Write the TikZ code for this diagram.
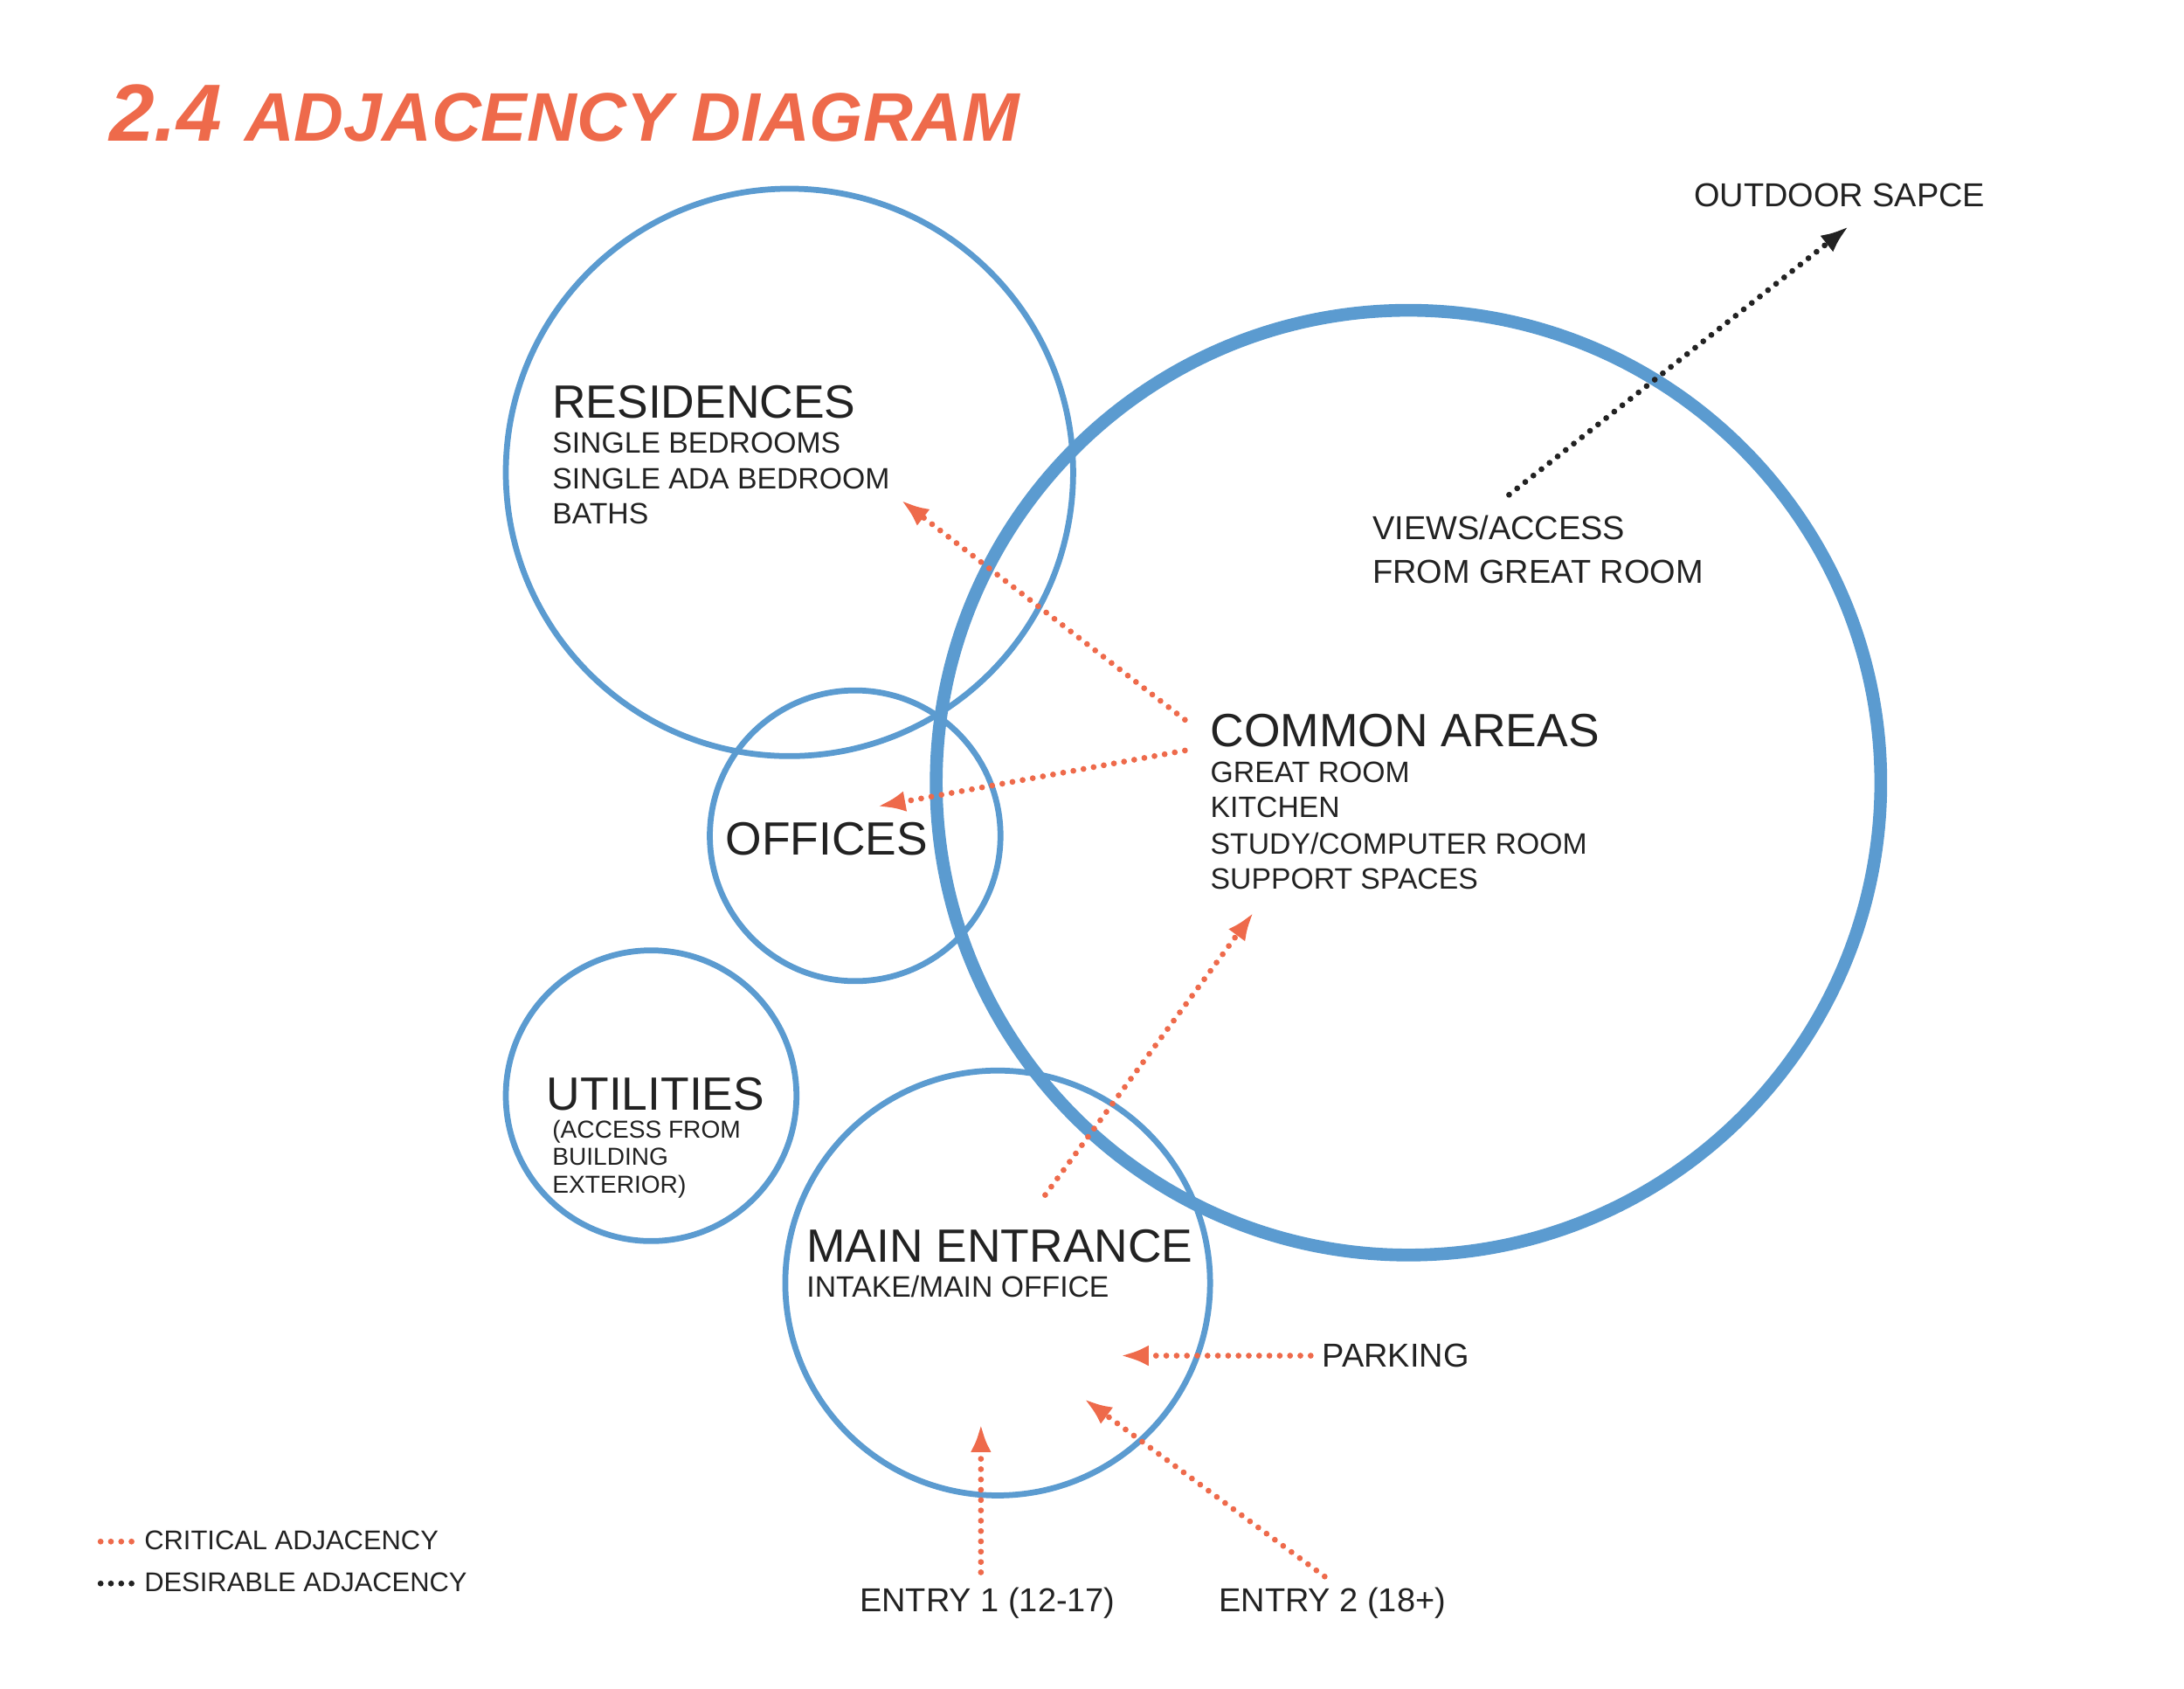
\documentclass[tikz,border=0pt]{standalone}
\usepackage{fontspec}
\setmainfont{Liberation Sans}
\usetikzlibrary{arrows.meta}
\definecolor{zoneblue}{HTML}{5B9BD0}
\definecolor{critorange}{HTML}{EE6A4B}
\definecolor{inkgray}{HTML}{222222}

\begin{document}
\begin{tikzpicture}[
                x=0.02cm, y=-0.02cm,
                zone/.style={draw=zoneblue, line width=2.4pt},
                big/.style={anchor=base west, inner sep=0pt, font=\fontsize{19}{21}\selectfont, text=inkgray},
                small/.style={anchor=base west, inner sep=0pt, font=\fontsize{12}{14}\selectfont, text=inkgray},
                tiny/.style={anchor=base west, inner sep=0pt, font=\fontsize{10}{12}\selectfont, text=inkgray},
                critical/.style={draw=critorange, line width=2.4pt, line cap=round, dash pattern=on 0pt off 4.2pt,
                    -{Latex[length=0.4cm,width=0.3cm,fill=critorange]}},
                desirable/.style={critical, draw=inkgray, -{Latex[length=0.4cm,width=0.3cm,fill=inkgray]}}]

    \useasboundingbox (0,0) rectangle (1563,1208);

    %%% ZONES
    \draw [zone] (565,338) circle (203);
    \draw [zone] (612,598) circle (104);
    \draw [zone, line width=5.2pt] (1008,560) circle (338);
    \draw [zone] (466,784) circle (104);
    \draw [zone] (714,918) circle (152);

    %%% TITLE
    \node [anchor=base west, inner sep=0pt, text=critorange] (title) at (78,101)
        {\fontsize{33}{36}\selectfont\bfseries\itshape 2.4 \fontsize{28}{32}\selectfont ADJACENCY DIAGRAM};

    %%% LABELS
    \node [big] (residences) at (395,299) {RESIDENCES};
    \node [small] (res1) at (395,324) {SINGLE BEDROOMS};
    \node [small] (res2) at (395,350) {SINGLE ADA BEDROOM};
    \node [small] (res3) at (395,375) {BATHS};
    \node [big] (offices) at (519,612) {OFFICES};
    \node [big] (common) at (866,534) {COMMON AREAS};
    \node [small] (com1) at (866,560) {GREAT ROOM};
    \node [small] (com2) at (866,585) {KITCHEN};
    \node [small] (com3) at (866,611) {STUDY/COMPUTER ROOM};
    \node [small] (com4) at (866,636) {SUPPORT SPACES};
    \node [small, font=\fontsize{13.5}{15}\selectfont] (views1) at (982,386) {VIEWS/ACCESS};
    \node [small, font=\fontsize{13.5}{15}\selectfont] (views2) at (982,417) {FROM GREAT ROOM};
    \node [big] (utilities) at (391,794) {UTILITIES};
    \node [tiny] (util1) at (395,814) {(ACCESS FROM};
    \node [tiny] (util2) at (395,834) {BUILDING};
    \node [tiny] (util3) at (395,854) {EXTERIOR)};
    \node [big] (mainentrance) at (577,903) {MAIN ENTRANCE};
    \node [small] (intake) at (577,928) {INTAKE/MAIN OFFICE};
    \node [small, font=\fontsize{13.5}{15}\selectfont] (parking) at (946,978) {PARKING};
    \node [small, font=\fontsize{13.5}{15}\selectfont] (entry1) at (615,1153) {ENTRY 1 (12-17)};
    \node [small, font=\fontsize{13.5}{15}\selectfont] (entry2) at (872,1153) {ENTRY 2 (18+)};
    \node [small, font=\fontsize{13.5}{15}\selectfont] (outdoor) at (1212,148) {OUTDOOR SAPCE};

    %%% ARROW ENDS
    \coordinate (comA) at (848,515);
    \coordinate (comB) at (848,537);
    \coordinate (resIn) at (645,358);
    \coordinate (offIn) at (628,577);
    \coordinate (mainOut) at (748,855);
    \coordinate (comIn) at (897,653);
    \coordinate (parkOut) at (938,970);
    \coordinate (parkIn) at (802,970);
    \coordinate (e1Out) at (702,1125);
    \coordinate (e1In) at (702,1019);
    \coordinate (e2Out) at (948,1128);
    \coordinate (e2In) at (776,1001);
    \coordinate (viewsOut) at (1080,354);
    \coordinate (outIn) at (1323,162);

    %%% CONNECTIONS
    \draw [critical] (comA) -- (resIn);
    \draw [critical] (comB) -- (offIn);
    \draw [critical] (mainOut) -- (comIn);
    \draw [critical] (parkOut) -- (parkIn);
    \draw [critical] (e1Out) -- (e1In);
    \draw [critical] (e2Out) -- (e2In);
    \draw [desirable] (viewsOut) -- (outIn);

    %%% LEGEND
    \coordinate (critA) at (72,1103);
    \coordinate (critB) at (97,1103);
    \coordinate (desA) at (72,1133);
    \coordinate (desB) at (97,1133);
    \draw [critical, -] (critA) -- (critB);
    \draw [desirable, -] (desA) -- (desB);
    \node [tiny, font=\fontsize{11}{13}\selectfont] (critlabel) at (103,1109) {CRITICAL ADJACENCY};
    \node [tiny, font=\fontsize{11}{13}\selectfont] (deslabel) at (103,1139) {DESIRABLE ADJACENCY};

\end{tikzpicture}
\end{document}
